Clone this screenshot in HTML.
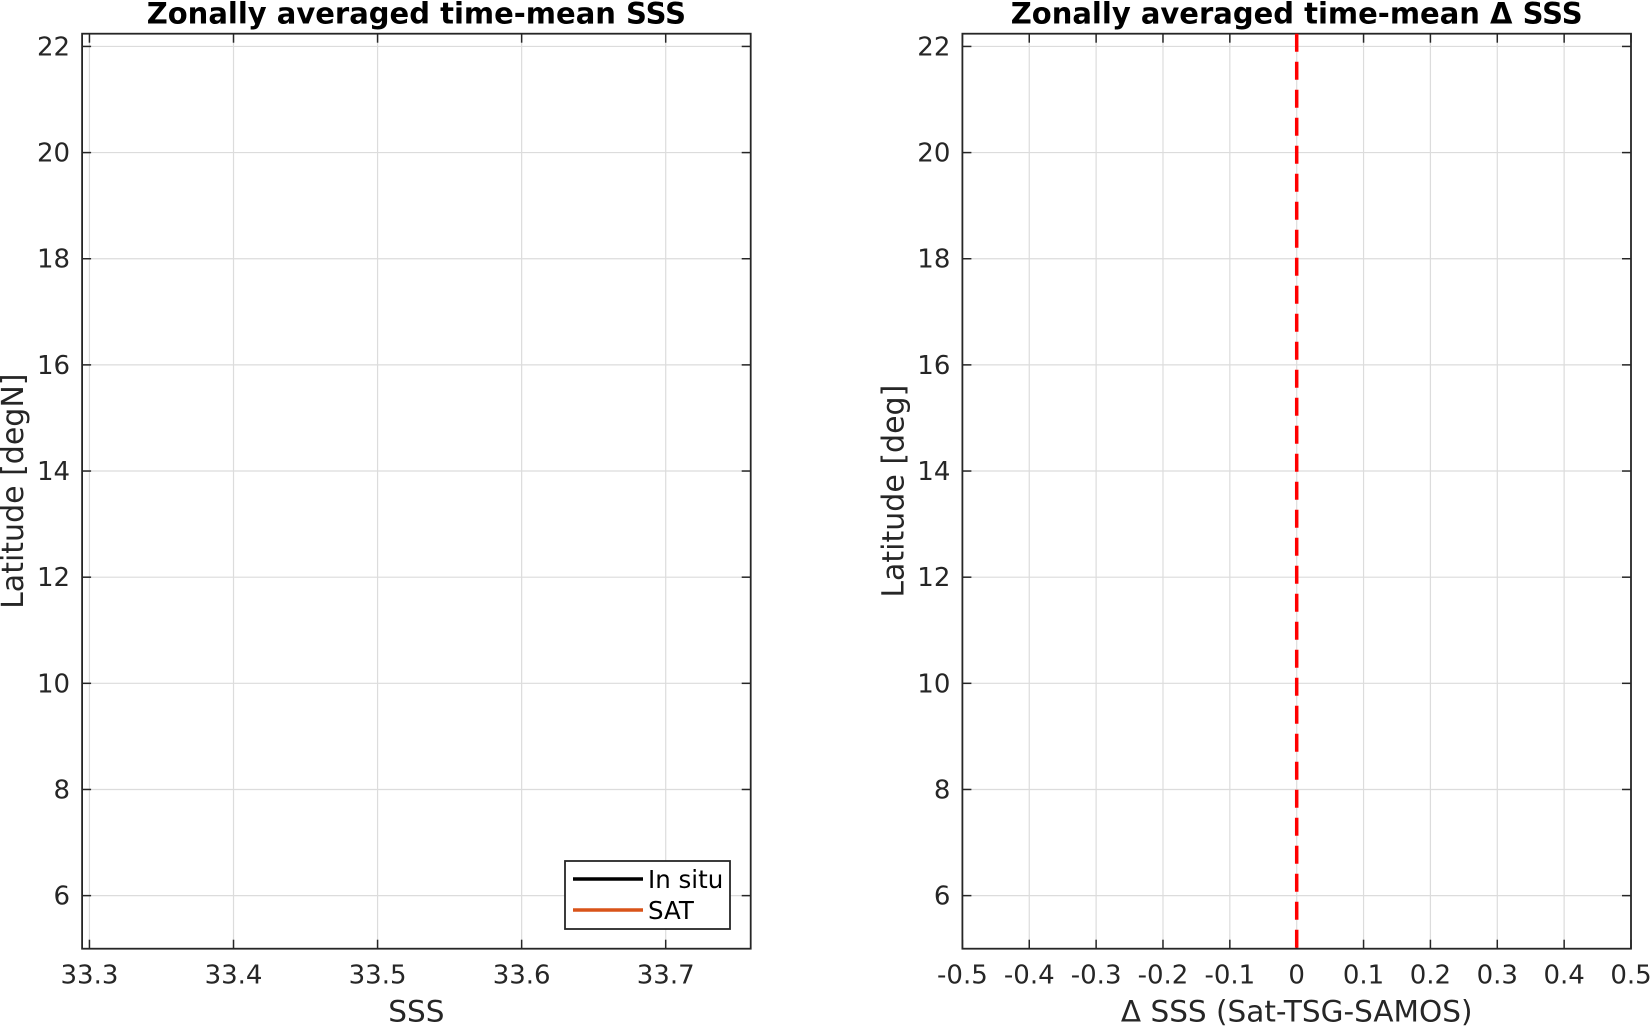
<!DOCTYPE html>
<html><head><meta charset="utf-8"><style>
html,body{margin:0;padding:0;background:#fff;}
svg{display:block;font-family:"DejaVu Sans","Liberation Sans",sans-serif;}
</style></head><body>
<svg id="fig" width="1651" height="1026" viewBox="0 0 1651 1026"></svg>
<script>
const yTicks=[6,8,10,12,14,16,18,20,22];
const yRange=[5.0,22.24];
const leftXTicks=[33.3,33.4,33.5,33.6,33.7];
const leftXRange=[33.2949,33.759];
const rightXTicks=[-0.5,-0.4,-0.3,-0.2,-0.1,0,0.1,0.2,0.3,0.4,0.5];
const rightXRange=[-0.5,0.5];
const zeroLineX=[0];
const legendLabels=["In situ","SAT"];
const legendColors=["#000000","#d95319"];
const NS="http://www.w3.org/2000/svg";
const svg=document.getElementById('fig');
function mk(t,a,p){const e=document.createElementNS(NS,t);for(const k in a)e.setAttribute(k,a[k]);(p||svg).appendChild(e);return e;}
function panel(name,x0,x1,y0,y1,xr,xt,title,xlabel,ylabel){
  const g=mk('g',{});
  
  
  const sx=v=>x0+(v-xr[0])/(xr[1]-xr[0])*(x1-x0);
  const sy=v=>y1-(v-yRange[0])/(yRange[1]-yRange[0])*(y1-y0);
  mk('rect',{x:x0,y:y0,width:x1-x0,height:y1-y0,fill:'#fff'},g);
  xt.forEach(v=>{const x=sx(v);
    const l=mk('line',{x1:x,x2:x,y1:y0,y2:y1,stroke:'#dcdcdc','stroke-width':1.2},g);
    
    mk('line',{x1:x,x2:x,y1:y1,y2:y1-9,stroke:'#262626','stroke-width':1.5},g);
    mk('line',{x1:x,x2:x,y1:y0,y2:y0+9,stroke:'#262626','stroke-width':1.5},g);
    const t=mk('text',{x:x,y:y1+35,'text-anchor':'middle','font-size':26,fill:'#262626'},g);
    t.textContent=String(v);
  });
  yTicks.forEach(v=>{const y=sy(v);
    const l=mk('line',{x1:x0,x2:x1,y1:y,y2:y,stroke:'#dcdcdc','stroke-width':1.2},g);
    
    mk('line',{x1:x0,x2:x0+9,y1:y,y2:y,stroke:'#262626','stroke-width':1.5},g);
    mk('line',{x1:x1,x2:x1-9,y1:y,y2:y,stroke:'#262626','stroke-width':1.5},g);
    const t=mk('text',{x:x0-12,y:y+9,'text-anchor':'end','font-size':26,fill:'#262626'},g);
    t.textContent=String(v);
  });
  const b=mk('rect',{x:x0,y:y0,width:x1-x0,height:y1-y0,fill:'none',stroke:'#262626','stroke-width':1.8},g);
  
  const tt=mk('text',{x:(x0+x1)/2,y:y0-10,'text-anchor':'middle','font-size':29,'font-weight':'bold',fill:'#000'},g);
  tt.textContent=title;
  const xl=mk('text',{x:(x0+x1)/2,y:y1+73,'text-anchor':'middle','font-size':29.5,fill:'#262626'},g);
  xl.textContent=xlabel;
  const yl=mk('text',{x:0,y:0,'text-anchor':'middle','font-size':30,fill:'#262626',transform:`translate(${x0-59},${(y0+y1)/2}) rotate(-90)`},g);
  yl.textContent=ylabel;
  return {g,sx,sy};
}
const L=panel('left-panel',82.1,750.7,33.7,948.7,leftXRange,leftXTicks,'Zonally averaged time-mean SSS','SSS','Latitude [degN]');
const R=panel('right-panel',962.4,1631,33.7,948.7,rightXRange,rightXTicks,'Zonally averaged time-mean \u0394 SSS','\u0394 SSS (Sat-TSG-SAMOS)','Latitude [deg]');
zeroLineX.forEach(v=>{
  const l=mk('line',{x1:R.sx(v),x2:R.sx(v),y1:R.sy(yRange[1]),y2:R.sy(yRange[0]),stroke:'#ff0000','stroke-width':3.5,'stroke-dasharray':'18 10'},R.g);
  
  
});
const lg=mk('g',{},L.g);


mk('rect',{x:565,y:861,width:165,height:68,fill:'#fff',stroke:'#262626','stroke-width':1.8},lg);
legendLabels.forEach((s,i)=>{
  const y=879+i*31;
  const e=mk('g',{},lg);
  
  
  mk('line',{x1:573,x2:643,y1:y,y2:y,stroke:legendColors[i],'stroke-width':3.5},e);
  const t=mk('text',{x:648,y:y+9,'font-size':24.5,fill:'#000'},e);
  t.textContent=s;
});
</script>
</body></html>
